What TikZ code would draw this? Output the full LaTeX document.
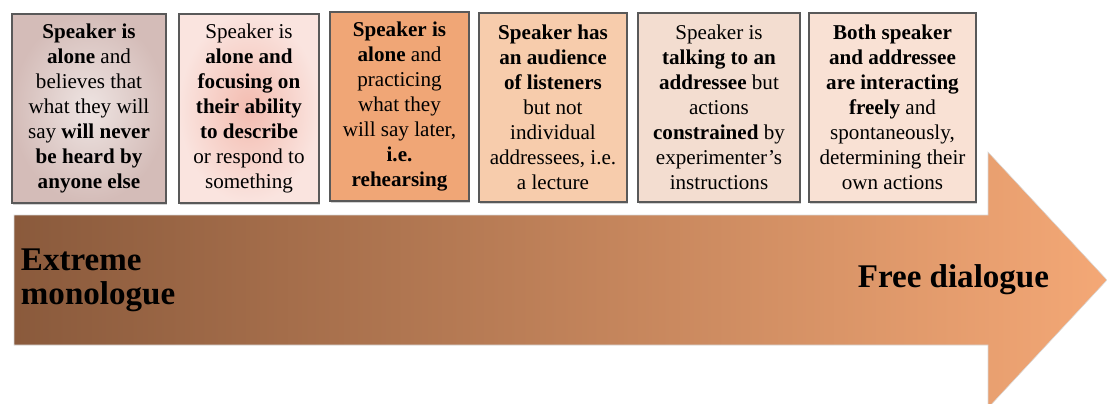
\documentclass[tikz,border=0pt]{standalone}
\usepackage{fontspec}
\setmainfont{LiberationSerif}[Extension=.ttf, UprightFont=*-Regular, BoldFont=*-Bold, ItalicFont=*-Italic, BoldItalicFont=*-BoldItalic]
\usetikzlibrary{shadows}
\definecolor{arrowdark}{RGB}{138,90,60}
\definecolor{arrowlight}{RGB}{244,168,118}
\begin{document}
\begin{tikzpicture}[
    x=0.025cm, y=-0.025cm,
    block/.style={rectangle, draw=black!65, line width=0.8pt, minimum height=189*0.025cm,
        inner sep=2pt, align=center, font=\fontsize{15}{17.8}\selectfont,
        drop shadow={shadow xshift=1pt, shadow yshift=-1.5pt, fill=black!35}},
    endlabel/.style={font=\fontsize{23.5}{23.5}\selectfont\bfseries, align=left}
]
\useasboundingbox (0,0) rectangle (1107,403);
\clip (0,0) rectangle (1107,403);

% Big arrow
\shade[left color=arrowdark, right color=arrowlight, draw=white!85!black, line width=0.4pt]
  (14,215) -- (988,215) -- (988,152) -- (1107,280) -- (988,408) -- (988,345) -- (14,345) -- cycle;

\node[endlabel, anchor=base west] (mono) at (16,304) {Extreme\\monologue};
\node[endlabel, anchor=base east] (free) at (1054,287) {Free dialogue};

% Blocks
\node[block, minimum width=154*0.025cm, shading=radial, inner color={rgb,255:red,238;green,228;blue,226}, outer color={rgb,255:red,212;green,188;blue,184}] (alone) at (89,108.5)
  {\textbf{Speaker is}\\\textbf{alone} and\\believes that\\what they will\\say \textbf{will never}\\\textbf{be heard by}\\\textbf{anyone else}};
\node[block, minimum width=140*0.025cm, shading=radial, inner color={rgb,255:red,243;green,188;blue,176}, outer color={rgb,255:red,250;green,228;blue,223}] (focus) at (249,108.5)
  {Speaker is\\\textbf{alone and}\\\textbf{focusing on}\\\textbf{their ability}\\\textbf{to describe}\\or respond to\\something};
\node[block, minimum width=139*0.025cm, fill={rgb,255:red,240;green,166;blue,118}] (rehearse) at (399.5,106.5)
  {\textbf{Speaker is}\\\textbf{alone} and\\practicing\\what they\\will say later,\\\textbf{i.e.}\\\textbf{rehearsing}};
\node[block, minimum width=148*0.025cm, fill={rgb,255:red,247;green,204;blue,172}] (lecture) at (553,107.5)
  {\textbf{Speaker has}\\\textbf{an audience}\\\textbf{of listeners}\\but not\\individual\\addressees, i.e.\\a lecture};
\node[block, minimum width=162*0.025cm, fill={rgb,255:red,243;green,221;blue,208}] (constrained) at (719,107.5)
  {Speaker is\\\textbf{talking to an}\\\textbf{addressee} but\\actions\\\textbf{constrained} by\\experimenter’s\\instructions};
\node[block, minimum width=167*0.025cm, fill={rgb,255:red,249;green,225;blue,212}] (freely) at (892.5,107.5)
  {\textbf{Both speaker}\\\textbf{and addressee}\\\textbf{are interacting}\\\textbf{freely} and\\spontaneously,\\determining their\\own actions};

\end{tikzpicture}
\end{document}
